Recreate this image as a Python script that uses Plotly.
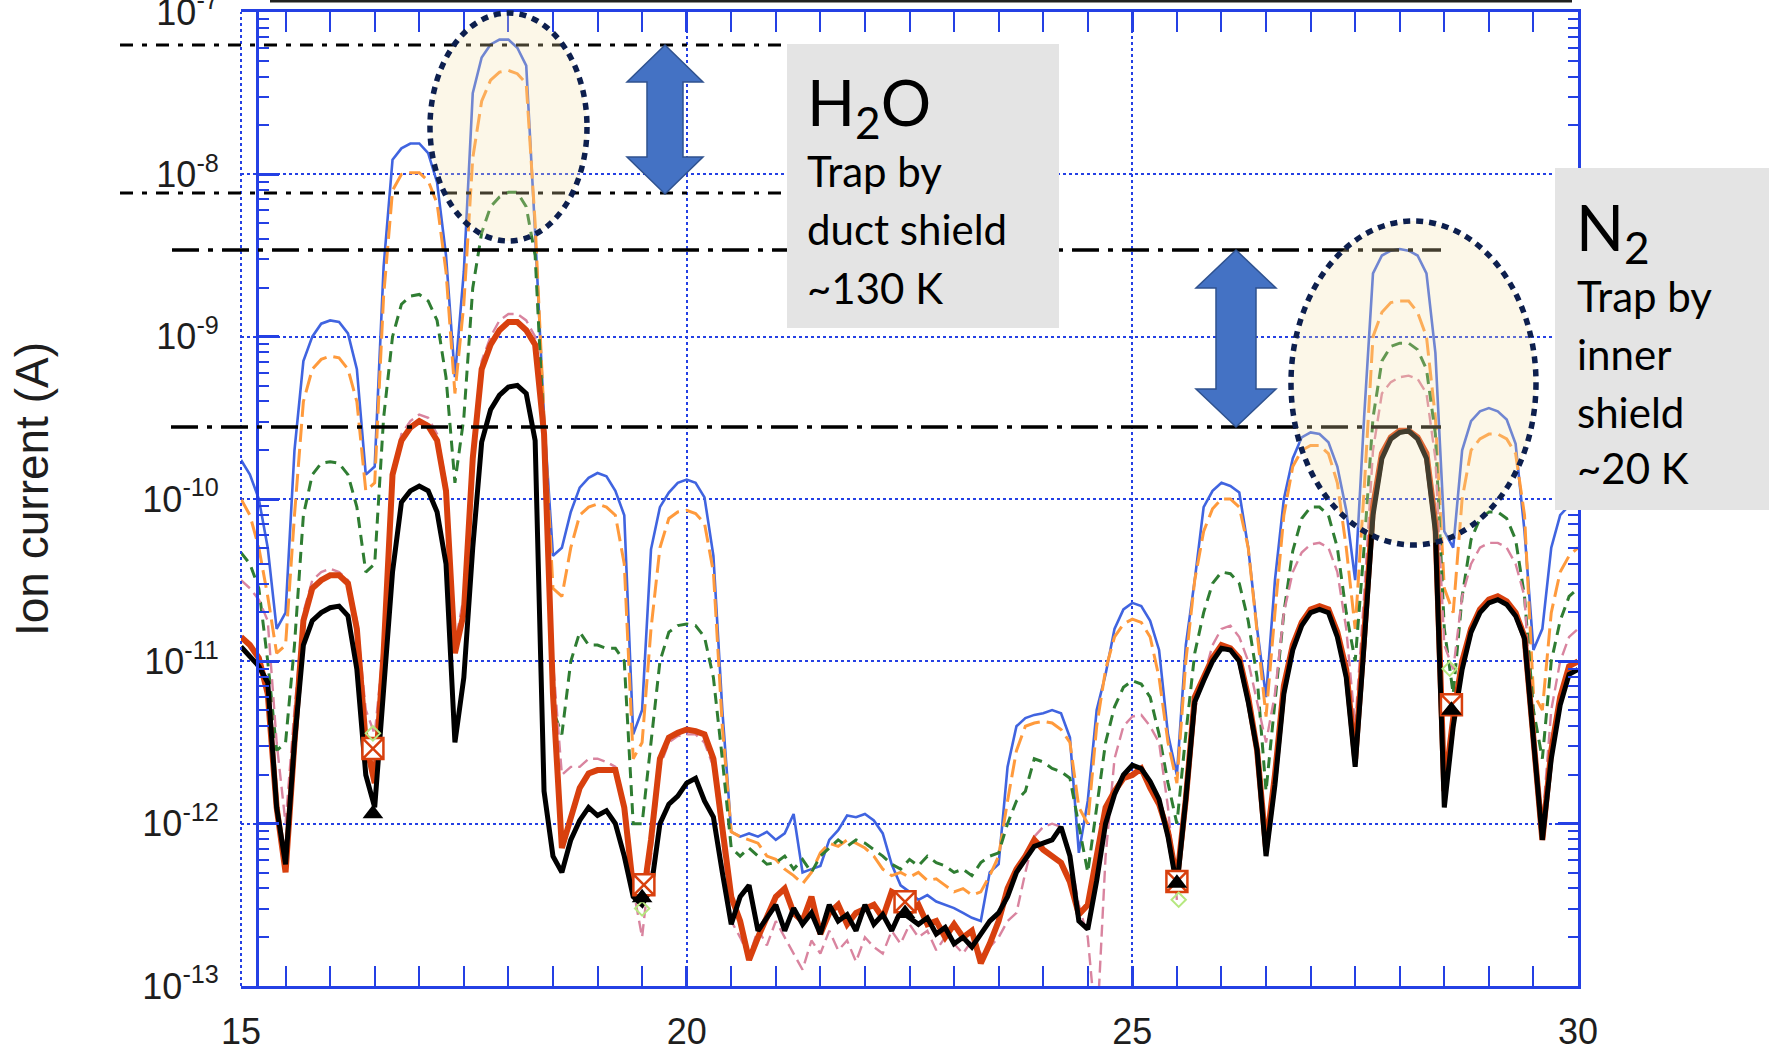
import plotly.graph_objects as go

# ---------------- data (log10 of ion current in A), m/z 15.0 ... 30.0 step 0.1 ----------------
mass = [round(15 + 0.1 * i, 1) for i in range(151)]

blue_log = [
    -9.76, -9.85, -10.0, -10.3, -10.8, -10.7, -9.7, -9.15, -9.0, -8.92,
    -8.9, -8.91, -8.98, -9.2, -9.85, -9.8, -8.57, -7.91, -7.84, -7.81,
    -7.81, -7.87, -8.05, -8.5, -9.25, -8.6, -7.5, -7.28, -7.2, -7.17,
    -7.17, -7.22, -7.33, -8.36, -9.5, -10.35, -10.3, -10.08, -9.93, -9.87,
    -9.84, -9.86, -9.95, -10.1, -11.45, -11.3, -10.31, -10.05, -9.96, -9.9,
    -9.88, -9.9, -9.99, -10.35, -11.3, -12.05, -12.08, -12.06, -12.08, -12.05,
    -12.1, -12.06, -11.94, -12.3, -12.28, -12.26, -12.1, -12.04, -11.95, -11.96,
    -11.94, -11.98, -12.06, -12.25, -12.38, -12.42, -12.47, -12.44, -12.48, -12.5,
    -12.52, -12.55, -12.58, -12.6, -12.3, -12.25, -11.65, -11.4, -11.35, -11.33,
    -11.32, -11.3, -11.32, -11.47, -12.18, -11.86, -11.3, -11.08, -10.8, -10.68,
    -10.64, -10.66, -10.75, -10.93, -11.45, -11.7, -10.9, -10.5, -10.05, -9.95,
    -9.9, -9.92, -9.96, -10.3, -10.8, -11.22, -10.5, -10.0, -9.75, -9.62,
    -9.59, -9.6, -9.65, -9.8, -10.07, -10.5, -9.5, -8.61, -8.5, -8.47,
    -8.46, -8.47, -8.5, -8.61, -9.1, -10.2, -10.3, -9.7, -9.52, -9.46,
    -9.44, -9.46, -9.51, -9.66, -10.2, -10.93, -10.8, -10.3, -10.1, -10.04,
    -10.0,
]

orange_log = [
    -10.0, -10.1, -10.3, -10.6, -10.95, -10.9, -10.1, -9.4, -9.2, -9.14,
    -9.12, -9.13, -9.2, -9.4, -9.95, -9.9, -8.75, -8.1, -8.0, -7.99,
    -7.99, -8.04, -8.18, -8.6, -9.35, -8.8, -7.9, -7.55, -7.42, -7.37,
    -7.36, -7.38, -7.44, -8.3, -9.5, -10.55, -10.6, -10.3, -10.1, -10.05,
    -10.03, -10.05, -10.1, -10.4, -11.6, -11.5, -10.8, -10.3, -10.12, -10.08,
    -10.07, -10.09, -10.15, -10.45, -11.4, -12.05, -12.08, -12.1, -12.12, -12.2,
    -12.22, -12.28, -12.32, -12.37, -12.3, -12.18, -12.12, -12.14, -12.1, -12.12,
    -12.15, -12.2, -12.28, -12.32, -12.3, -12.33, -12.3, -12.35, -12.34, -12.38,
    -12.42, -12.4, -12.44, -12.42, -12.32, -12.2, -11.86, -11.55, -11.4, -11.38,
    -11.37, -11.38, -11.42, -11.5, -11.9, -12.0, -11.4, -11.05, -10.85, -10.77,
    -10.74, -10.76, -10.85, -11.1, -11.5, -11.75, -11.0, -10.5, -10.2, -10.06,
    -10.0, -10.0, -10.05, -10.3, -10.8, -11.34, -10.7, -10.1, -9.8, -9.7,
    -9.67, -9.67, -9.72, -9.9, -10.3, -10.8, -9.95, -9.0, -8.85, -8.79,
    -8.78, -8.78, -8.85, -9.0, -9.5, -10.55, -10.7, -10.0, -9.7, -9.63,
    -9.6, -9.6, -9.63, -9.72, -10.1, -11.2, -11.3, -10.7, -10.45, -10.35,
    -10.3,
]

green_log = [
    -10.33, -10.4, -10.55, -11.0, -11.55, -11.5, -10.9, -10.1, -9.85, -9.78,
    -9.77, -9.78, -9.85, -10.05, -10.45, -10.4, -9.5, -9.0, -8.8, -8.75,
    -8.74, -8.78, -8.9, -9.25, -9.9, -9.5, -8.7, -8.36, -8.2, -8.14,
    -8.11, -8.11, -8.2, -8.5, -9.6, -11.3, -11.45, -11.0, -10.82, -10.9,
    -10.9, -10.92, -10.92, -11.0, -12.0, -12.0, -11.5, -11.0, -10.82, -10.78,
    -10.77, -10.78, -10.85, -11.1, -11.6, -12.15, -12.2, -12.15, -12.2, -12.25,
    -12.24, -12.2, -12.28, -12.22, -12.3, -12.2, -12.15, -12.1, -12.14, -12.1,
    -12.12, -12.16, -12.2, -12.25, -12.28, -12.22, -12.26, -12.2, -12.24, -12.26,
    -12.3, -12.28, -12.32, -12.24, -12.2, -12.18, -12.0, -11.86, -11.8, -11.6,
    -11.62, -11.66, -11.68, -11.72, -12.0, -12.3, -11.9, -11.5, -11.28, -11.16,
    -11.12, -11.14, -11.22, -11.45, -11.75, -12.0, -11.45, -10.95, -10.7, -10.52,
    -10.45, -10.46, -10.52, -10.75, -11.1, -11.8, -11.25, -10.7, -10.32, -10.12,
    -10.05, -10.05, -10.1, -10.3, -10.7, -11.0, -10.3, -9.5, -9.15, -9.06,
    -9.04, -9.04, -9.08, -9.2, -9.6, -10.8, -11.2, -10.6, -10.25, -10.12,
    -10.08, -10.08, -10.12, -10.25, -10.6, -11.3, -11.6, -11.0, -10.75, -10.6,
    -10.55,
]

pink_log = [
    -10.5, -10.55, -10.62, -10.75, -11.5, -12.0, -11.3, -10.7, -10.5, -10.45,
    -10.43, -10.45, -10.5, -10.75, -11.3, -11.45, -10.9, -9.85, -9.6, -9.52,
    -9.48, -9.5, -9.6, -9.9, -10.9, -10.6, -9.7, -9.15, -9.0, -8.9,
    -8.86, -8.86, -8.9, -9.0, -9.55, -11.0, -11.7, -11.65, -11.65, -11.6,
    -11.6, -11.62, -11.65, -11.9, -12.4, -12.7, -12.2, -11.65, -11.5, -11.46,
    -11.45, -11.45, -11.5, -11.65, -12.1, -12.6, -12.7, -12.82, -12.65, -12.75,
    -12.6, -12.7, -12.8, -12.9, -12.72, -12.8, -12.66, -12.78, -12.72, -12.85,
    -12.7, -12.76, -12.8, -12.66, -12.74, -12.62, -12.7, -12.66, -12.78, -12.7,
    -12.74, -12.8, -12.72, -12.8, -12.76, -12.7, -12.6, -12.55, -12.3, -12.08,
    -12.02, -12.0, -12.02, -12.2, -12.5, -12.7, -13.3, -12.2, -11.6, -11.4,
    -11.34, -11.33, -11.4, -11.5, -11.9, -12.47, -11.8, -11.3, -11.1, -10.9,
    -10.8, -10.78, -10.85, -11.0, -11.25, -11.5, -11.2, -10.7, -10.45, -10.33,
    -10.28, -10.27, -10.3, -10.45, -10.8, -11.4, -10.6, -9.7, -9.35, -9.28,
    -9.25, -9.24, -9.26, -9.35, -9.75, -10.9, -11.05, -10.6, -10.4, -10.3,
    -10.27, -10.27, -10.3, -10.4, -10.6, -11.5, -12.0, -11.3, -11.0, -10.85,
    -10.8,
]

red_log = [
    -10.85, -10.9, -10.98, -11.2, -11.9, -12.3, -11.5, -10.75, -10.55, -10.5,
    -10.47, -10.47, -10.52, -10.8, -11.5, -11.75, -10.95, -9.85, -9.64, -9.56,
    -9.52, -9.55, -9.64, -9.95, -10.95, -10.7, -9.75, -9.2, -9.05, -8.96,
    -8.91, -8.91, -8.96, -9.05, -9.6, -11.2, -12.15, -11.95, -11.78, -11.69,
    -11.67, -11.67, -11.67, -11.9, -12.4, -12.5, -12.1, -11.6, -11.47, -11.44,
    -11.42, -11.43, -11.45, -11.6, -12.0, -12.45, -12.6, -12.84, -12.7, -12.57,
    -12.45, -12.4, -12.55, -12.6, -12.45, -12.68, -12.55, -12.5, -12.62, -12.55,
    -12.52, -12.5, -12.58, -12.42, -12.45, -12.55, -12.5, -12.62, -12.6, -12.7,
    -12.62, -12.7, -12.66, -12.86, -12.74, -12.6, -12.4, -12.28, -12.2, -12.1,
    -12.16, -12.2, -12.24, -12.36, -12.56, -12.5, -12.2, -11.9, -11.8, -11.72,
    -11.7, -11.66, -11.78, -11.88, -12.05, -12.35, -11.85, -11.22, -11.1, -10.98,
    -10.9, -10.92, -10.98, -11.22, -11.55, -12.15, -11.7, -11.15, -10.9, -10.76,
    -10.68, -10.66, -10.68, -10.82, -11.05, -11.6, -10.85, -10.05, -9.72, -9.62,
    -9.58, -9.58, -9.62, -9.72, -10.15, -11.8, -11.35, -11.0, -10.8, -10.68,
    -10.62, -10.6, -10.63, -10.7, -10.85, -11.45, -12.1, -11.55, -11.22, -11.03,
    -11.0,
]

black_log = [
    -10.91, -10.97, -11.03, -11.13, -11.9, -12.25, -11.5, -10.9, -10.75, -10.7,
    -10.67, -10.66, -10.72, -11.05, -11.7, -11.9, -11.2, -10.45, -10.02, -9.95,
    -9.92, -9.95, -10.08, -10.4, -11.5, -11.1, -10.3, -9.65, -9.45, -9.36,
    -9.31, -9.3, -9.35, -9.64, -11.8, -12.2, -12.3, -12.1, -11.98, -11.9,
    -11.95, -11.92, -12.0, -12.2, -12.45, -12.5, -12.4, -12.0, -11.88, -11.83,
    -11.75, -11.72, -11.86, -11.96, -12.3, -12.62, -12.45, -12.38, -12.66, -12.58,
    -12.5, -12.66, -12.52, -12.62, -12.55, -12.68, -12.5, -12.6, -12.56, -12.66,
    -12.5, -12.62, -12.56, -12.66, -12.54, -12.58, -12.62, -12.58, -12.68, -12.64,
    -12.74, -12.7, -12.76, -12.68, -12.6, -12.55, -12.45, -12.3, -12.22, -12.14,
    -12.12, -12.1, -12.02, -12.2, -12.6, -12.65, -12.35, -12.0, -11.82, -11.7,
    -11.64, -11.66, -11.74, -11.85, -12.08, -12.39, -11.85, -11.25, -11.12, -11.0,
    -10.92, -10.93, -11.0, -11.25, -11.55, -12.2, -11.76, -11.2, -10.93, -10.78,
    -10.7, -10.68, -10.7, -10.85, -11.1, -11.65, -10.9, -10.1, -9.75, -9.63,
    -9.59, -9.58, -9.63, -9.75, -10.2, -11.9, -11.4, -11.05, -10.82, -10.7,
    -10.64, -10.62, -10.65, -10.72, -10.86, -11.5, -12.1, -11.6, -11.27, -11.08,
    -11.05,
]

# plot symbols (every Nth point of three of the series)
red_sym_x = [16.48, 19.52, 22.45, 25.5, 28.58]
red_sym_y = [2.9e-12, 4.2e-13, 3.3e-13, 4.4e-13, 5.4e-12]
black_sym_x = [16.48, 19.5, 22.45, 25.5, 28.58]
black_sym_y = [1.15e-12, 3.5e-13, 2.8e-13, 4.3e-13, 5.0e-12]
pink_sym_x = [16.48, 19.5, 25.52, 28.56]
pink_sym_y = [3.6e-12, 3.0e-13, 3.4e-13, 9.0e-12]

y_tick_vals = [1e-13, 1e-12, 1e-11, 1e-10, 1e-9, 1e-8, 1e-7]
y_tick_text = ["10<sup>-13</sup>", "10<sup>-12</sup>", "10<sup>-11</sup>", "10<sup>-10</sup>",
               "10<sup>-9</sup>", "10<sup>-8</sup>", "10<sup>-7</sup>"]
y_minor_vals = [k * 10.0 ** e for e in range(-13, -7) for k in range(2, 10)]

# ---------------- figure geometry (pixels) ----------------
W, H = 1769, 1052
L, R, T, B = 241, 1578, 12, 986


def px(x):
    return (x - L) / (R - L)


def py(y):
    return (B - y) / (B - T)


def to_lin(vals):
    return [10.0 ** v for v in vals]


AX = "#2440e4"

fig = go.Figure()

series = [
    ("blue", blue_log, dict(color="#4064e0", width=2.6)),
    ("orange", orange_log, dict(color="#ff9a3c", width=3, dash="18px,7px")),
    ("green", green_log, dict(color="#2f7d32", width=3, dash="11px,7px")),
    ("pink", pink_log, dict(color="#d9849f", width=2.4, dash="12px,6px")),
    ("red", red_log, dict(color="#d8400e", width=6)),
]
for name, vals, ln in series:
    fig.add_trace(go.Scatter(x=mass, y=to_lin(vals), mode="lines", line=ln, name=name,
                             hoverinfo="skip"))

fig.add_trace(go.Scatter(x=mass, y=to_lin(black_log), mode="lines", yaxis="y2",
                         line=dict(color="#000000", width=5), name="black", hoverinfo="skip"))
fig.add_trace(go.Scatter(x=red_sym_x, y=red_sym_y, mode="markers", yaxis="y2",
                         marker=dict(symbol="square-x", size=21, color="white",
                                     line=dict(color="#d8400e", width=2.5)), hoverinfo="skip"))
fig.add_trace(go.Scatter(x=pink_sym_x, y=pink_sym_y, mode="markers", yaxis="y2",
                         marker=dict(symbol="diamond-open", size=11,
                                     line=dict(color="#d9849f", width=2)), hoverinfo="skip"))
fig.add_trace(go.Scatter(x=black_sym_x, y=black_sym_y, mode="markers", yaxis="y2",
                         marker=dict(symbol="triangle-up", size=18, color="black"),
                         hoverinfo="skip"))

tickfont = dict(family="Liberation Sans, Arial, sans-serif", size=36, color="#1e1e1e")

fig.update_layout(
    width=W, height=H,
    margin=dict(l=L, r=W - R, t=T, b=H - B, autoexpand=False),
    paper_bgcolor="white", plot_bgcolor="white", showlegend=False,
    xaxis=dict(range=[15, 30], domain=[0, 1], tickmode="linear", tick0=15, dtick=5,
               showline=True, linecolor=AX, linewidth=3, mirror="allticks",
               ticks="inside", ticklen=20, tickwidth=2.5, tickcolor=AX,
               minor=dict(tick0=15, dtick=0.5, ticks="inside", ticklen=10, tickwidth=2,
                          tickcolor=AX, showgrid=False),
               showgrid=True, gridcolor=AX, gridwidth=2, griddash="dot", zeroline=False,
               tickfont=tickfont, ticklabelstandoff=12, ticklabeloverflow="allow"),
    yaxis=dict(type="log", range=[-13, -7], anchor="free", position=16 / (R - L),
               tickmode="array", tickvals=y_tick_vals, ticktext=y_tick_text,
               showline=True, linecolor=AX, linewidth=3,
               ticks="inside", ticklen=20, tickwidth=2.5, tickcolor=AX,
               minor=dict(tickmode="array", tickvals=y_minor_vals, ticks="inside",
                          ticklen=10, tickwidth=2, tickcolor=AX, showgrid=False),
               showgrid=True, gridcolor=AX, gridwidth=2, griddash="dot", zeroline=False,
               tickfont=tickfont, ticklabelstandoff=30, ticklabeloverflow="allow"),
    yaxis2=dict(type="log", range=[-13, -7], overlaying="y", side="right", anchor="x",
                tickmode="array", tickvals=y_tick_vals, showticklabels=False,
                showline=True, linecolor=AX, linewidth=3,
                ticks="inside", ticklen=20, tickwidth=2.5, tickcolor=AX,
                minor=dict(tickmode="array", tickvals=y_minor_vals, ticks="inside",
                           ticklen=10, tickwidth=2, tickcolor=AX, showgrid=False),
                showgrid=False, zeroline=False),
)

shapes = []
# dotted grid line at the left edge (m/z 15)
shapes.append(dict(type="line", xref="paper", yref="paper", x0=0, x1=0, y0=0, y1=1,
                   line=dict(color=AX, width=2, dash="dot"), layer="above"))
# thin black frame line at the very top of the picture
shapes.append(dict(type="line", xref="paper", yref="paper", x0=px(270), x1=px(1572),
                   y0=py(1), y1=py(1), line=dict(color="#222222", width=3), layer="above"))
# dash-dot reference levels
for (x0, x1, y, dash, w) in [
    (120, 787, 45, "13px,9px,5px,9px", 3),
    (120, 787, 193, "13px,9px,5px,9px", 3),
    (172, 1441, 250, "27px,9px,5px,9px", 3.5),
    (171, 1441, 427, "27px,9px,5px,9px", 3.5),
]:
    shapes.append(dict(type="line", xref="paper", yref="paper", x0=px(x0), x1=px(x1),
                       y0=py(y), y1=py(y), line=dict(color="black", width=w, dash=dash),
                       layer="above"))
# highlighted ellipses
for (x0, x1, y0, y1) in [(430, 587, 13, 241), (1291, 1536, 221, 545)]:
    shapes.append(dict(type="circle", xref="paper", yref="paper",
                       x0=px(x0), x1=px(x1), y0=py(y1), y1=py(y0),
                       fillcolor="rgba(245,225,170,0.27)",
                       line=dict(color="#0d1f4e", width=5.5, dash="7px,6px"), layer="above"))
# grey label boxes
for (x0, x1, y0, y1) in [(787, 1059, 44, 328), (1555, 1769, 168, 510)]:
    shapes.append(dict(type="rect", xref="paper", yref="paper",
                       x0=px(x0), x1=px(x1), y0=py(y1), y1=py(y0),
                       fillcolor="#e4e4e4", line=dict(width=0), layer="above"))


def arrow_path(cx, top, bot, hw, sw, hl):
    pts = [(cx, top), (cx + hw, top + hl), (cx + sw, top + hl), (cx + sw, bot - hl),
           (cx + hw, bot - hl), (cx, bot), (cx - hw, bot - hl), (cx - sw, bot - hl),
           (cx - sw, top + hl), (cx - hw, top + hl)]
    return "M " + " L ".join(f"{px(a):.5f},{py(b):.5f}" for a, b in pts) + " Z"


for (cx, top, bot, hw, sw, hl) in [(665, 45, 194, 38, 18, 37), (1236, 250, 427, 40, 20, 38)]:
    shapes.append(dict(type="path", xref="paper", yref="paper", path=arrow_path(cx, top, bot, hw, sw, hl),
                       fillcolor="#4472c4", line=dict(color="#2f528f", width=1.5), layer="above"))

fig.update_layout(shapes=shapes)

box_font = "Lato, Calibri, sans-serif"
annotations = [
    dict(text="Ion current (A)", x=px(32), y=py(489), textangle=-90, showarrow=False,
         xref="paper", yref="paper", xanchor="center", yanchor="middle",
         font=dict(family="Liberation Sans, Arial, sans-serif", size=46, color="#1e1e1e")),
    dict(text="H<sub>2</sub>O", x=px(805), y=py(106), font=dict(family=box_font, size=63)),
    dict(text="Trap by", x=px(805), y=py(171), font=dict(family=box_font, size=42)),
    dict(text="duct shield", x=px(805), y=py(229), font=dict(family=box_font, size=42)),
    dict(text="~130 K", x=px(805), y=py(288), font=dict(family=box_font, size=42)),
    dict(text="N<sub>2</sub>", x=px(1574), y=py(231), font=dict(family=box_font, size=63)),
    dict(text="Trap by", x=px(1575), y=py(296), font=dict(family=box_font, size=42)),
    dict(text="inner", x=px(1575), y=py(354), font=dict(family=box_font, size=42)),
    dict(text="shield", x=px(1575), y=py(412), font=dict(family=box_font, size=42)),
    dict(text="~20 K", x=px(1575), y=py(468), font=dict(family=box_font, size=42)),
]
for a in annotations[1:]:
    a.update(showarrow=False, xref="paper", yref="paper", xanchor="left", yanchor="middle")
    a["font"]["color"] = "black"
fig.update_layout(annotations=annotations)

fig.write_html("out.html", config={"displayModeBar": False},
               post_script="document.body.style.margin='0';document.body.style.overflow='hidden';")
